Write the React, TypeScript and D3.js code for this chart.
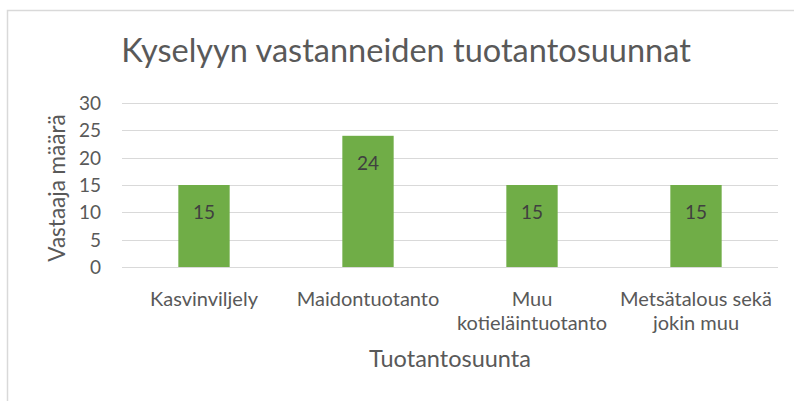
import React from "react";
import * as d3 from "d3";

const categories: string[][] = [
  ["Kasvinviljely"],
  ["Maidontuotanto"],
  ["Muu", "kotieläintuotanto"],
  ["Metsätalous sekä", "jokin muu"],
];
const values: number[] = [15, 24, 15, 15];
const yTicks: number[] = [0, 5, 10, 15, 20, 25, 30];
const title = "Kyselyyn vastanneiden tuotantosuunnat";
const yTitle = "Vastaaja määrä";
const xTitle = "Tuotantosuunta";

const W = 794;
const H = 401;
const margin = { left: 122, right: 16, top: 103, bottom: 134 };
const font = "Lato, 'Open Sans', sans-serif";
const textColor = "#595959";

export default function App() {
  const x = d3
    .scaleBand<number>()
    .domain(d3.range(values.length))
    .range([margin.left, W - margin.right])
    .paddingInner(0.687)
    .paddingOuter(0.3435);
  const y = d3.scaleLinear().domain([0, 30]).range([H - margin.bottom, margin.top]);
  const step = x.step();

  return (
    <svg
      width={W}
      height={H}
      style={{ position: "absolute", left: 0, top: 0, background: "#fff" }}
    >
      <rect x={7.5} y={10.5} width={W} height={H} fill="#fff" stroke="#d9d9d9" strokeWidth={1.5} />
      <text
        x={406}
        y={62}
        textAnchor="middle"
        fontFamily={font}
        fontSize={32.5}
        fill={textColor}
      >
        {title}
      </text>
      {yTicks.map((t) => (
        <g key={t}>
          <line
            x1={margin.left}
            x2={W - margin.right}
            y1={Math.round(y(t)) + 0.5}
            y2={Math.round(y(t)) + 0.5}
            stroke="#d9d9d9"
            strokeWidth={1.2}
          />
          <text
            x={101}
            y={y(t)}
            dy="0.36em"
            textAnchor="end"
            fontFamily={font}
            fontSize={19}
            fill={textColor}
          >
            {t}
          </text>
        </g>
      ))}
      {values.map((v, i) => (
        <g key={i}>
          <rect
            x={x(i)}
            y={y(v)}
            width={x.bandwidth()}
            height={y(0) - y(v)}
            fill="#70AD47"
          />
          <text
            x={(x(i) as number) + x.bandwidth() / 2}
            y={y(v) + 27}
            dy="0.36em"
            textAnchor="middle"
            fontFamily={font}
            fontSize={19}
            fill="#404040"
          >
            {v}
          </text>
        </g>
      ))}
      {categories.map((lines, i) => (
        <text
          key={i}
          textAnchor="middle"
          fontFamily={font}
          fontSize={20}
          fill={textColor}
        >
          {lines.map((l, j) => (
            <tspan key={j} x={margin.left + step * (i + 0.5)} y={306 + j * 24}>
              {l}
            </tspan>
          ))}
        </text>
      ))}
      <text
        x={450}
        y={367}
        textAnchor="middle"
        fontFamily={font}
        fontSize={23.5}
        fill={textColor}
      >
        {xTitle}
      </text>
      <text
        transform={`translate(57, ${(y(0) + y(30)) / 2 + 3}) rotate(-90)`}
        dy="0.35em"
        textAnchor="middle"
        fontFamily={font}
        fontSize={22.5}
        fill={textColor}
      >
        {yTitle}
      </text>
    </svg>
  );
}
